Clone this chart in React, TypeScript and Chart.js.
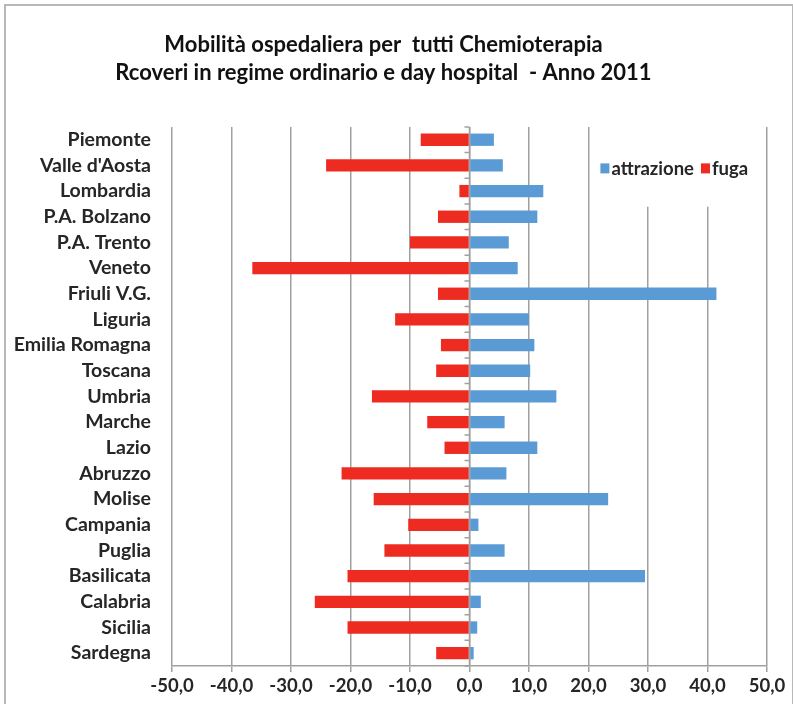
import React, { useEffect, useRef } from "react";
import { Chart, registerables } from "chart.js";

Chart.register(...registerables);

const regions = [
  "Piemonte", "Valle d'Aosta", "Lombardia", "P.A. Bolzano", "P.A. Trento", "Veneto",
  "Friuli V.G.", "Liguria", "Emilia Romagna", "Toscana", "Umbria", "Marche", "Lazio",
  "Abruzzo", "Molise", "Campania", "Puglia", "Basilicata", "Calabria", "Sicilia", "Sardegna",
];
const attrazione = [4.1, 5.6, 12.4, 11.4, 6.6, 8.1, 41.5, 10.0, 10.9, 10.2, 14.6, 5.9, 11.4, 6.2, 23.3, 1.5, 5.9, 29.5, 1.9, 1.3, 0.7];
const fuga = [-8.2, -24.1, -1.7, -5.3, -10.0, -36.5, -5.3, -12.5, -4.8, -5.6, -16.4, -7.1, -4.2, -21.5, -16.1, -10.3, -14.3, -20.5, -26.0, -20.5, -5.6];
const titleLines = [
  "Mobilità ospedaliera per  tutti Chemioterapia",
  "Rcoveri in regime ordinario e day hospital  - Anno 2011",
];
const xMin = -50;
const xMax = 50;
const xStep = 10;

const BLUE = "#5b9bd5";
const RED = "#ee2b20";
const GRID = "#a0a0a0";
const FONT = "Lato, 'Open Sans', sans-serif";
const TEXT = "#262626";

const extrasPlugin = {
  id: "extras",
  beforeDatasetsDraw(chart: any) {
    const { ctx, chartArea, scales } = chart;
    const xs = scales.x;
    const ys = scales.y;
    // legend box
    const lx0 = xs.getPixelForValue(21.5);
    const lx1 = xs.getPixelForValue(49.3);
    const ly1 = ys.getPixelForValue(3) - 10;
    ctx.save();
    ctx.fillStyle = "#ffffff";
    ctx.fillRect(lx0, chartArea.top - 2, lx1 - lx0, ly1 - chartArea.top + 2);
    // zero axis line and tick marks
    const x0 = xs.getPixelForValue(0);
    ctx.strokeStyle = GRID;
    ctx.lineWidth = 1.5;
    ctx.beginPath();
    ctx.moveTo(x0, chartArea.top);
    ctx.lineTo(x0, chartArea.bottom);
    const n = regions.length;
    for (let i = 0; i <= n; i++) {
      const y = ys.getPixelForValue(i - 0.5);
      ctx.moveTo(x0 - 5, y);
      ctx.lineTo(x0, y);
    }
    ctx.stroke();
    // legend items
    const ly = ys.getPixelForValue(1) + 4;
    ctx.font = `bold 18.5px ${FONT}`;
    ctx.textBaseline = "middle";
    ctx.textAlign = "left";
    let x = xs.getPixelForValue(22.0);
    ctx.fillStyle = BLUE;
    ctx.fillRect(x, ly - 6, 9, 10);
    x += 11;
    ctx.fillStyle = TEXT;
    ctx.fillText("attrazione", x, ly);
    x += ctx.measureText("attrazione").width + 7;
    ctx.fillStyle = RED;
    ctx.fillRect(x, ly - 6, 9, 10);
    x += 11;
    ctx.fillStyle = TEXT;
    ctx.fillText("fuga", x, ly);
    ctx.restore();
  },
};

export default function App() {
  const ref = useRef<HTMLCanvasElement>(null);
  useEffect(() => {
    if (!ref.current) return;
    const chart = new Chart(ref.current, {
      type: "bar",
      data: {
        labels: regions,
        datasets: [
          { label: "attrazione", data: attrazione, backgroundColor: BLUE, barPercentage: 0.96, categoryPercentage: 0.5 },
          { label: "fuga", data: fuga, backgroundColor: RED, barPercentage: 0.96, categoryPercentage: 0.5 },
        ],
      },
      options: {
        indexAxis: "y",
        animation: false,
        responsive: false,
        maintainAspectRatio: false,
        layout: { padding: { left: 0, right: 26, top: 0, bottom: 0 } },
        plugins: {
          legend: { display: false },
          tooltip: { enabled: false },
          title: {
            display: true,
            text: titleLines,
            color: "#111",
            font: { family: FONT, size: 22, weight: "bold", lineHeight: 1.27 },
            padding: { top: 31, bottom: 40 },
          },
        },
        scales: {
          x: {
            stacked: true,
            min: xMin,
            max: xMax,
            ticks: {
              stepSize: xStep,
              color: TEXT,
              font: { family: FONT, size: 18.5, weight: "bold" },
              padding: 3,
              callback: (v: any) => Number(v).toFixed(1).replace(".", ","),
            },
            grid: { color: GRID, lineWidth: 1.5, tickLength: 6, tickColor: GRID },
            border: { display: true, color: GRID, width: 1.5 },
            afterFit: (s: any) => { s.height = 38; },
          },
          y: {
            stacked: true,
            ticks: { color: TEXT, font: { family: FONT, size: 19.5, weight: "bold" }, padding: 13, autoSkip: false },
            grid: { display: false },
            border: { display: false },
            afterFit: (s: any) => { s.width = 172; },
          },
        },
      },
      plugins: [extrasPlugin],
    });
    return () => chart.destroy();
  }, []);
  return (
    <div style={{ position: "absolute", left: 0, top: 0, width: 793, height: 704, overflow: "hidden", background: "#fff" }}>
      <div style={{ position: "absolute", left: 4, top: 4, width: 786, height: 760, border: "2px solid #b8b8b8" }} />
      <canvas ref={ref} width={793} height={704} style={{ position: "absolute", left: 0, top: 0 }} />
    </div>
  );
}
